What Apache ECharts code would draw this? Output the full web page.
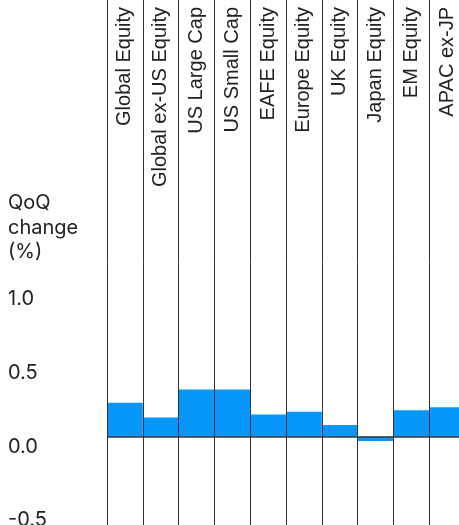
<!DOCTYPE html>
<html>
<head>
<meta charset="utf-8">
<script src="https://cdn.jsdelivr.net/npm/echarts@6/dist/echarts.min.js"></script>
<style>
html,body{margin:0;padding:0;background:#fff;}
#main{width:459px;height:525px;}
</style>
</head>
<body>
<div id="main"></div>
<script>
const categories = ['Global Equity','Global ex-US Equity','US Large Cap','US Small Cap','EAFE Equity','Europe Equity','UK Equity','Japan Equity','EM Equity','APAC ex-JP'];
const qoqChange = [0.23, 0.13, 0.32, 0.32, 0.15, 0.17, 0.08, -0.03, 0.18, 0.20];
const yTickLabels = ['-0.5','0.0','0.5','1.0'];
const yTitle = 'QoQ\nchange\n(%)';

const chart = echarts.init(document.getElementById('main'), null, {renderer:'canvas'});
chart.setOption({
  animation: false,
  backgroundColor: '#fff',
  grid: {left: 107, right: -6, top: -5.5, bottom: -59.1, containLabel: false, outerBoundsMode: 'none'},
  xAxis: {
    type: 'category',
    data: categories,
    position: 'top',
    boundaryGap: true,
    z: 5,
    axisLine: {show: false},
    axisTick: {show: false},
    splitLine: {show: true, interval: 0, lineStyle: {color: '#333', width: 1}},
    axisLabel: {
      inside: true,
      rotate: 90,
      interval: 0,
      margin: 12.5,
      align: 'right',
      verticalAlign: 'middle',
      fontFamily: 'Liberation Sans, Arial, sans-serif',
      fontSize: 20,
      color: '#222'
    }
  },
  yAxis: {
    type: 'value',
    min: -1,
    max: 3,
    interval: 0.5,
    axisLine: {show: false},
    axisTick: {show: false},
    splitLine: {show: false},
    axisLabel: {
      margin: 99,
      align: 'left',
      verticalAlign: 'top',
      fontFamily: 'Inter, Noto Sans, sans-serif',
      fontSize: 20,
      color: '#222',
      formatter: function (v) {
        const s = v.toFixed(1);
        return yTickLabels.indexOf(s) >= 0 ? s : '';
      }
    }
  },
  graphic: [{
    type: 'text',
    left: 8,
    top: 191,
    style: {
      text: yTitle,
      fontFamily: 'Inter, Noto Sans, sans-serif',
      fontSize: 20,
      lineHeight: 24.5,
      fill: '#222'
    }
  }],
  series: [{
    type: 'bar',
    data: qoqChange,
    barWidth: '100%',
    barCategoryGap: 0,
    itemStyle: {color: '#0797fa'},
    markLine: {
      silent: true,
      symbol: ['none','none'],
      label: {show: false},
      lineStyle: {color: '#333', width: 1.5, type: 'solid'},
      data: [{yAxis: 0}]
    }
  }]
});
</script>
</body>
</html>
